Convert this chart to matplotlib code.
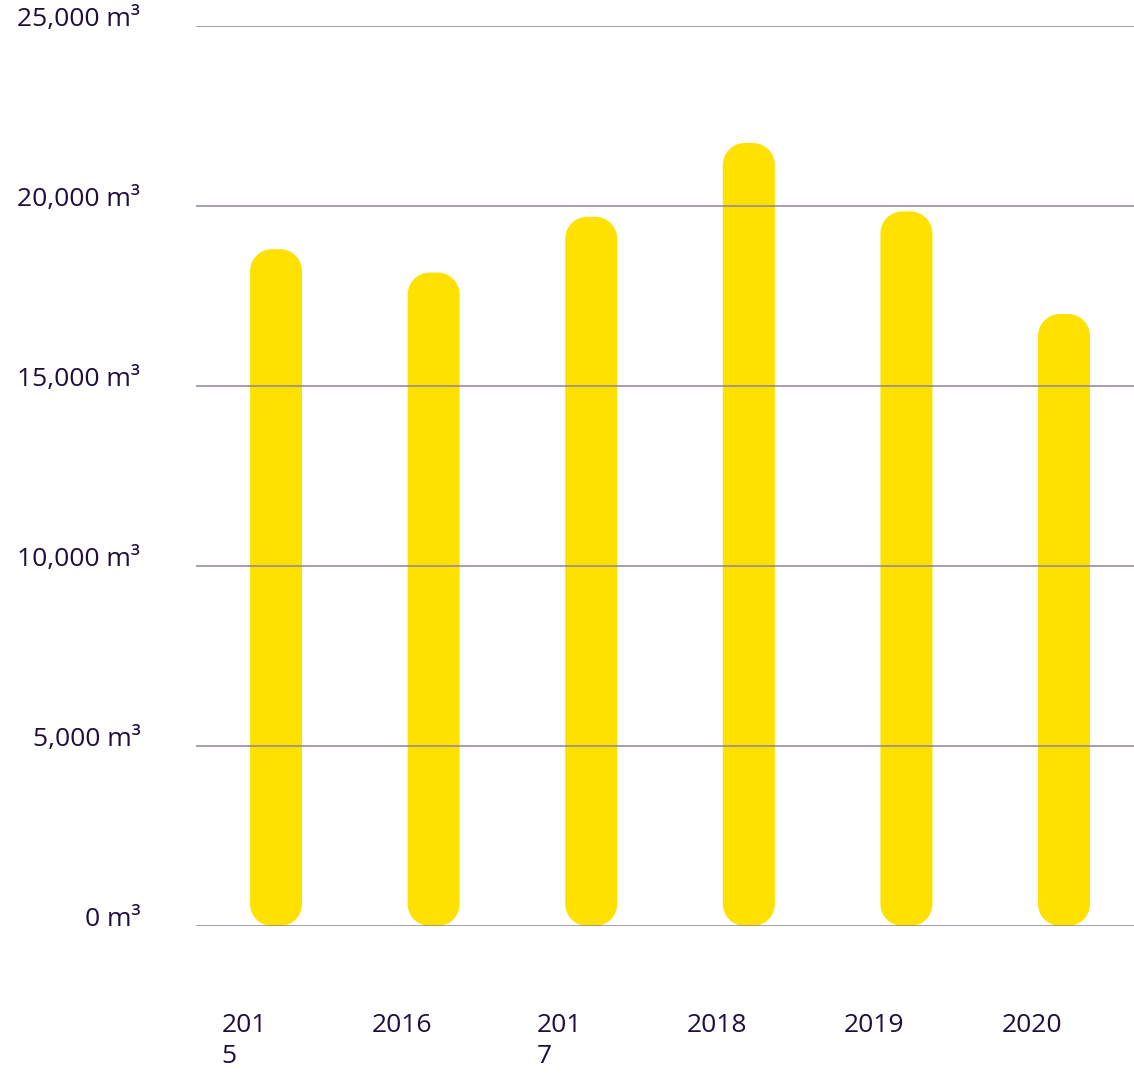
import matplotlib.pyplot as plt
from matplotlib.patches import PathPatch
from matplotlib.path import Path
from matplotlib.transforms import ScaledTranslation

years = ["201\n5", "2016", "201\n7", "2018", "2019", "2020"]
volumes = [18800, 18150, 19700, 21750, 19850, 17000]
y_ticks = [0, 5000, 10000, 15000, 20000, 25000]
y_labels = ["0 m³", "5,000 m³", "10,000 m³", "15,000 m³", "20,000 m³", "25,000 m³"]

bar_color = "#FFE100"
grid_color = "#8E8299"
text_color = "#1E0D3D"

plt.rcParams["font.family"] = ["Open Sans", "DejaVu Sans"]


def rounded_bar(x0, x1, y0, y1, rx, ry):
    # rectangle with circular corners (cubic bezier quarter arcs)
    k = 0.5523
    verts = [
        (x0 + rx, y0), (x1 - rx, y0),
        (x1 - rx + k * rx, y0), (x1, y0 + ry - k * ry), (x1, y0 + ry),
        (x1, y1 - ry),
        (x1, y1 - ry + k * ry), (x1 - rx + k * rx, y1), (x1 - rx, y1),
        (x0 + rx, y1),
        (x0 + rx - k * rx, y1), (x0, y1 - ry + k * ry), (x0, y1 - ry),
        (x0, y0 + ry),
        (x0, y0 + ry - k * ry), (x0 + rx - k * rx, y0), (x0 + rx, y0),
        (x0 + rx, y0),
    ]
    codes = [Path.MOVETO, Path.LINETO,
             Path.CURVE4, Path.CURVE4, Path.CURVE4,
             Path.LINETO,
             Path.CURVE4, Path.CURVE4, Path.CURVE4,
             Path.LINETO,
             Path.CURVE4, Path.CURVE4, Path.CURVE4,
             Path.LINETO,
             Path.CURVE4, Path.CURVE4, Path.CURVE4,
             Path.CLOSEPOLY]
    return Path(verts, codes)


fig = plt.figure(figsize=(11.34, 10.76), dpi=100)
ax = fig.add_axes([196 / 1134, 150 / 1076, 938 / 1134, 900 / 1076])
ax.set_xlim(-0.508, 5.444)
ax.set_ylim(0, 25000)

# data units per pixel, so the corners come out circular on screen
px_x = (5.444 + 0.508) / 938
px_y = 25000 / 900
bar_w = 52 * px_x
r_px = 22

for i, v in enumerate(volumes):
    path = rounded_bar(i - bar_w / 2, i + bar_w / 2, 0, v, r_px * px_x, r_px * px_y)
    ax.add_patch(PathPatch(path, facecolor=bar_color, edgecolor="none", zorder=1))

for t in y_ticks:
    ax.axhline(t, color=grid_color, linewidth=1.1, zorder=2)

for s in ax.spines.values():
    s.set_visible(False)

ax.set_yticks(y_ticks)
ax.set_yticklabels(y_labels, fontsize=19, color=text_color)
ax.tick_params(axis="y", length=0, pad=40)
for lab in ax.get_yticklabels():
    lab.set_transform(lab.get_transform() + ScaledTranslation(0, 7 / 72, fig.dpi_scale_trans))

ax.set_xticks(range(len(years)))
ax.set_xticklabels(years, fontsize=19, color=text_color, va="top",
                   multialignment="left", linespacing=1.3)
ax.tick_params(axis="x", length=0, pad=63)
for lab in ax.get_xticklabels():
    lab.set_transform(lab.get_transform() + ScaledTranslation(-32 / 100, 0, fig.dpi_scale_trans))

fig.savefig("out.png", dpi=100, facecolor="white")
